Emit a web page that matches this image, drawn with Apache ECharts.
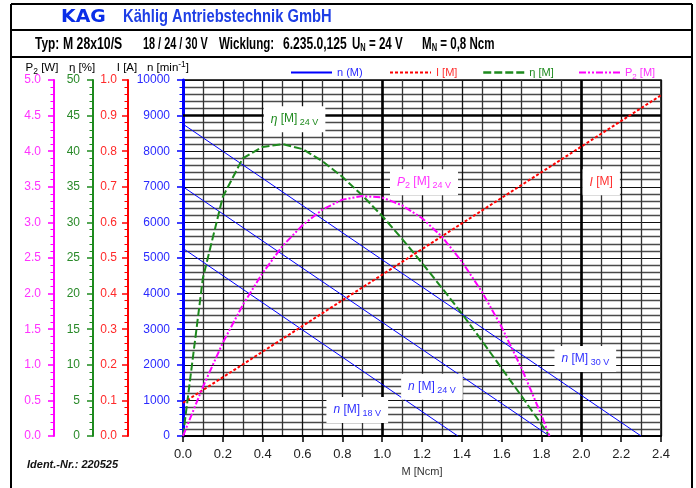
<!DOCTYPE html>
<html><head><meta charset="utf-8">
<script src="https://cdn.jsdelivr.net/npm/echarts@6/dist/echarts.min.js"></script>
<style>html,body{margin:0;padding:0;background:#fff}#c{width:696px;height:488px}</style>
</head><body><div id="c"></div>
<script>
// ---- data ----
const torque = [0,0.1,0.2,0.3,0.4,0.5,0.6,0.7,0.8,0.9,1.0,1.1,1.2,1.3,1.4,1.5,1.6,1.7,1.8,1.84];
const effPct = [0,22.2,33.6,39.0,40.6,41.0,40.3,38.6,36.4,33.8,30.9,27.7,24.3,20.8,17.2,13.4,9.5,5.6,1.6,0];
const powerW = [0,0.69,1.31,1.84,2.29,2.67,2.96,3.18,3.32,3.37,3.35,3.24,3.06,2.80,2.45,2.03,1.53,0.95,0.29,0];
const curTorque = [0,2.4];
const curA = [0.093,0.957];
const n18Torque = [0,1.38];
const n18 = [5270,0];
const n24Torque = [0,1.84];
const n24 = [7000,0];
const n30Torque = [0,2.30];
const n30 = [8760,0];
// annotation anchors (torque, speed-scale value)
const annEta = [0.56,8900];
const annP2 = [1.21,7130];
const annI = [2.10,7130];
const ann30 = [2.02,2160];
const ann24 = [1.25,1380];
const ann18 = [0.875,730];

const F = "'Liberation Sans', Arial, sans-serif";
const BLUE='#0000ff', RED='#ff0000', GREEN='#1e8a1e', MAG='#ff00ff';
const pairs = (xs, ys) => xs.map((x,i)=>[x, ys[i]]);

function yAx(o){
  return {
    type:'value', position:'left', offset:o.offset, min:o.min, max:o.max, interval:o.interval,
    axisLine:{show:true, onZero:false, lineStyle:{color:o.color, width:o.lw||2}},
    axisTick:{show:true, length:6, lineStyle:{color:o.color, width:1.5}},
    minorTick:{show:true, splitNumber:5, length:3.5, lineStyle:{color:o.color, width:1}},
    axisLabel:{color:o.label, fontSize:12, fontFamily:F, margin:o.margin||12, formatter:o.fmt},
    splitLine:{show:!!o.split, lineStyle:{color:'#111', width:1.2}},
    minorSplitLine:{show:!!o.split, lineStyle:{color:'#4a4a4a', width:1.4}}
  };
}

const chart = echarts.init(document.getElementById('c'));
const subRich = (c, fs) => ({
  a:{color:c, fontSize:fs, fontFamily:F, lineHeight:16},
  i:{color:c, fontSize:fs, fontFamily:F, fontStyle:'italic', lineHeight:16},
  s:{color:c, fontSize:fs-3, fontFamily:F, lineHeight:10, verticalAlign:'bottom'},
  sup:{color:c, fontSize:fs-3, fontFamily:F, lineHeight:10, verticalAlign:'top'}
});
function ann(coord, text, color){
  return {coord:coord, symbol:'rect', symbolSize:1, itemStyle:{color:'rgba(0,0,0,0)'},
    label:{show:true, position:'inside', formatter:text, backgroundColor:'#fff', padding:[5,7,5,7], rich:subRich(color,12)}};
}
function legendCfg(name, left, color, fmt, lw){
  const l = {data:[name], left:left, top:62, itemWidth:41, itemHeight:10, itemGap:0, selectedMode:false,
    itemStyle:{opacity:0},
    textStyle:{color:color, fontSize:11, fontFamily:F, rich:subRich(color,11)}};
  if (fmt) l.formatter = fmt;
  if (lw) l.lineStyle = {width:lw};
  return l;
}
const hdr = (x, y, rich, text, fs, sx) => ({type:'text', x:x, y:y, scaleX:sx, silent:true,
  style:{text:text, fontSize:fs, fontWeight:'bold', fontFamily:F, fill:'#000', verticalAlign:'middle', align:'left', rich:rich}});
const rowRich = {a:{fontSize:17, fontWeight:'bold', fontFamily:F, color:'#000', lineHeight:18},
                 s:{fontSize:11, fontWeight:'bold', fontFamily:F, color:'#000', lineHeight:12, verticalAlign:'bottom'}};

const option = {
  animation:false,
  backgroundColor:'#fff',
  grid:{left:183, right:35, top:80, bottom:52, show:true, borderColor:'#000', borderWidth:1.5},
  legend:[
    legendCfg('n (M)', 285, '#2a2aff', null, 2),
    legendCfg('I [M]', 384, '#ff3030', null, 2),
    legendCfg('η [M]', 477, GREEN, null, 2.5),
    legendCfg('P2 [M]', 573, '#ff33ff', () => '{a|P}{s|2}{a| [M]}', 2)
  ],
  xAxis:{type:'value', min:0, max:2.4, interval:0.2,
    axisLine:{show:true, onZero:false, lineStyle:{color:'#000', width:2}},
    axisTick:{show:true, length:6, lineStyle:{color:'#000', width:1.5}},
    axisLabel:{color:'#222', fontSize:13, fontFamily:F, margin:12, formatter:v=>v.toFixed(1)},
    splitLine:{show:true, lineStyle:{color:'#111', width:1.3}},
    minorTick:{show:false, splitNumber:2},
    minorSplitLine:{show:true, lineStyle:{color:'#333', width:1.3}},
    name:'M [Ncm]', nameLocation:'middle', nameGap:30,
    nameTextStyle:{color:'#333', fontSize:11, fontFamily:F}
  },
  yAxis:[
    yAx({offset:0, min:0, max:10000, interval:1000, color:BLUE, label:'#2a2aff', lw:3, split:true, margin:13, fmt:v=>String(v)}),
    yAx({offset:55, min:0, max:1, interval:0.1, color:RED, label:'#ff2a2a', fmt:v=>v.toFixed(1), margin:11}),
    yAx({offset:90, min:0, max:50, interval:5, color:GREEN, label:'#2a8a2a', margin:13, fmt:v=>String(v)}),
    yAx({offset:129, min:0, max:5, interval:0.5, color:MAG, label:'#ff33ff', fmt:v=>v.toFixed(1), margin:13})
  ],
  series:[
    {name:'n (M)', type:'line', yAxisIndex:0, symbol:'none', data:pairs(n18Torque,n18), lineStyle:{color:BLUE, width:1}, itemStyle:{color:BLUE}, z:3},
    {name:'n (M)', type:'line', yAxisIndex:0, symbol:'none', data:pairs(n24Torque,n24), lineStyle:{color:BLUE, width:1}, itemStyle:{color:BLUE}, z:3,
      markLine:{silent:true, symbol:'none', z:1, label:{show:false}, lineStyle:{color:'#000', width:2.6, type:'solid'},
        data:[{yAxis:9000},{xAxis:1.0},{xAxis:2.0}]},
      markPoint:{silent:true, z:6, data:[
        ann(annEta, '{i|η}{a| [M]}{s| 24 V}', GREEN),
        ann(annP2, '{i|P}{s|2}{a| [M]}{s| 24 V}', '#ff33ff'),
        ann(annI, '{i|I}{a| [M]}', '#ff3030'),
        ann(ann30, '{i|n}{a| [M]}{s| 30 V}', '#3030ff'),
        ann(ann24, '{i|n}{a| [M]}{s| 24 V}', '#3030ff'),
        ann(ann18, '{i|n}{a| [M]}{s| 18 V}', '#3030ff')
      ]}},
    {name:'n (M)', type:'line', yAxisIndex:0, symbol:'none', data:pairs(n30Torque,n30), lineStyle:{color:BLUE, width:1}, itemStyle:{color:BLUE}, z:3},
    {name:'I [M]', type:'line', yAxisIndex:1, symbol:'none', data:pairs(curTorque,curA), lineStyle:{color:RED, width:2, type:[3,2]}, itemStyle:{color:RED}, z:4},
    {name:'η [M]', type:'line', yAxisIndex:2, symbol:'none', data:pairs(torque,effPct), lineStyle:{color:GREEN, width:2, type:[8,3]}, itemStyle:{color:GREEN}, z:4},
    {name:'P2 [M]', type:'line', yAxisIndex:3, symbol:'none', data:pairs(torque,powerW), lineStyle:{color:MAG, width:2, type:[7,2,2,2,2,2]}, itemStyle:{color:MAG}, z:4}
  ],
  graphic:[
    {type:'line', silent:true, shape:{x1:11,y1:4,x2:692,y2:4}, style:{stroke:'#000', lineWidth:2}},
    {type:'line', silent:true, shape:{x1:11,y1:30,x2:692,y2:30}, style:{stroke:'#000', lineWidth:2}},
    {type:'line', silent:true, shape:{x1:11,y1:57,x2:692,y2:57}, style:{stroke:'#000', lineWidth:2}},
    {type:'line', silent:true, shape:{x1:11,y1:4,x2:11,y2:488}, style:{stroke:'#000', lineWidth:2}},
    {type:'line', silent:true, shape:{x1:692,y1:4,x2:692,y2:488}, style:{stroke:'#000', lineWidth:2}},
    {type:'text', x:61, y:17, scaleX:1.05, silent:true, style:{text:'KAG', fontSize:18, fontWeight:'bold', fontFamily:"'DejaVu Sans', sans-serif", fill:'#0a2ee8', verticalAlign:'middle'}},
    {type:'text', x:123, y:17, scaleX:0.775, silent:true, style:{text:'Kählig Antriebstechnik GmbH', fontSize:19, fontWeight:'bold', fontFamily:F, fill:'#1f3fe6', verticalAlign:'middle'}},
    hdr(35, 44, rowRich, '{a|Typ:}', 17, 0.7),
    hdr(63, 44, rowRich, '{a|M 28x10/S}', 17, 0.72),
    hdr(143, 44, rowRich, '{a|18 / 24 / 30 V}', 17, 0.64),
    hdr(219, 44, rowRich, '{a|Wicklung:}', 17, 0.68),
    hdr(283, 44, rowRich, '{a|6.235.0,125}', 17, 0.71),
    hdr(352, 44, rowRich, '{a|U}{s|N}{a| = 24 V}', 17, 0.68),
    hdr(422, 44, rowRich, '{a|M}{s|N}{a| = 0,8 Ncm}', 17, 0.68),
    {type:'text', x:42, y:68, silent:true, style:{text:'{a|P}{s|2}{a| [W]}', rich:subRich('#ff33ff',11.5), align:'center', verticalAlign:'middle'}},
    {type:'text', x:82, y:68, silent:true, style:{text:'{a|η [%]}', rich:subRich('#2a8a2a',11.5), align:'center', verticalAlign:'middle'}},
    {type:'text', x:127, y:68, silent:true, style:{text:'{a|I [A]}', rich:subRich('#ff3030',11.5), align:'center', verticalAlign:'middle'}},
    {type:'text', x:168, y:68, silent:true, style:{text:'{a|n [min}{sup|-1}{a|]}', rich:subRich('#2a2aff',11.5), align:'center', verticalAlign:'middle'}},
    {type:'text', x:27, y:465, silent:true, style:{text:'Ident.-Nr.: 220525', fontSize:11, fontWeight:'bold', fontStyle:'italic', fontFamily:F, fill:'#111', verticalAlign:'middle'}}
  ]
};
chart.setOption(option);
</script>
</body></html>
